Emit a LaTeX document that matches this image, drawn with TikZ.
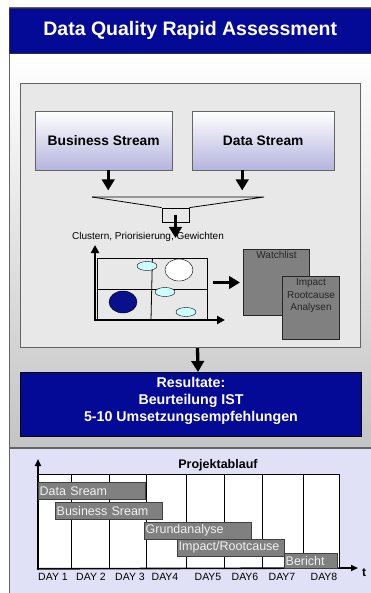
\documentclass[tikz,border=0pt]{standalone}
\usepackage{fontspec}
\setmainfont{Liberation Sans}
\usetikzlibrary{arrows.meta,positioning,calc,shapes.geometric}
\definecolor{navyblue}{RGB}{4,10,150}
\definecolor{panelgray}{RGB}{196,196,196}
\definecolor{innergray}{RGB}{232,232,232}
\definecolor{framegray}{RGB}{100,100,100}
\definecolor{streamblue}{RGB}{180,180,222}
\definecolor{boxgray}{RGB}{128,128,128}
\definecolor{lightcyan}{RGB}{204,255,255}
\definecolor{dotblue}{RGB}{8,16,140}
\definecolor{ganttbg}{RGB}{224,224,246}

\begin{document}
\begin{tikzpicture}[
    x=1pt, y=-1pt,
    titlebar/.style={rectangle, draw=black!80, fill=navyblue, text=white, font=\fontsize{19.5}{23}\selectfont\bfseries, anchor=north west, inner sep=0pt},
    streambox/.style={rectangle, draw=framegray, top color=white, bottom color=streamblue, minimum width=137pt, minimum height=59pt, font=\fontsize{13.8}{16}\selectfont\bfseries, anchor=north west, inner sep=0pt},
    greybox/.style={rectangle, draw=black!85, line width=1pt, fill=boxgray, anchor=north west, inner sep=0pt},
    greytext/.style={text=black!85, font=\fontsize{10}{12.5}\selectfont, align=center, anchor=north, inner sep=1pt},
    bubble/.style={ellipse, draw=black, fill=lightcyan, minimum width=20pt, minimum height=9pt, inner sep=0pt},
    bigbubble/.style={ellipse, draw=black, minimum width=28pt, minimum height=22pt, inner sep=0pt},
    ganttbar/.style={rectangle, draw=black!75, fill=boxgray, text=white!94!black, font=\fontsize{12.5}{14}\selectfont, anchor=north west, align=left, inner xsep=1.5pt, inner ysep=0pt, minimum height=17pt},
    daylabel/.style={font=\fontsize{10.5}{12}\selectfont, inner sep=0pt},
    blockarrow/.style={-{Triangle[width=12.5pt,length=11pt]}, line width=3.3pt},
    axisarrow/.style={-{Triangle[width=8pt,length=8pt]}, line width=2pt},
    ganttaxis/.style={-{Triangle[width=6pt,length=7pt]}, line width=1.6pt}
]
\useasboundingbox (0,0) rectangle (371,593);

% Background panels
\shade[top color=white, bottom color=panelgray] (9,53) rectangle (371,448);
\fill[ganttbg] (9,448) rectangle (371,593);
\draw[framegray, line width=1pt] (9,593) -- (9,8) -- (371,8);
\draw[framegray, line width=1.5pt] (9,448) -- (371,448);

% Title
\node[titlebar, minimum width=362pt, minimum height=45pt] (title) at (9,8) {Data Quality Rapid Assessment};

% Assessment area
\node[draw=framegray, fill=innergray, line width=1pt, minimum width=340pt, minimum height=264pt, anchor=north west, inner sep=0pt] (inner) at (20,83) {};

% Streams
\node[streambox] (business) at (35,111) {Business Stream};
\node[streambox, minimum width=142pt] (data) at (192,111) {Data Stream};

% Funnel
\coordinate (fnlL) at (92,197);
\coordinate (fnlR) at (264,197);
\node[draw, line width=0.8pt, minimum width=27pt, minimum height=14pt, inner sep=0pt] (neck) at (175.5,215) {};
\draw[line width=0.8pt] (fnlL) -- (fnlR) -- (neck.north east);
\draw[line width=0.8pt] (fnlL) -- (neck.north west);

\draw[blockarrow] ([xshift=4.5pt]business.south) -- ++(0,20);
\draw[blockarrow] ([xshift=-21pt]data.south) -- ++(0,20);

\node[font=\fontsize{10}{12}\selectfont, inner sep=0pt] (clust) at (148,237) {Clustern, Priorisierung, Gewichten};
\draw[blockarrow] (neck.center) -- ([yshift=-1pt]neck.center |- clust.center);

% Portfolio matrix
\node[draw, line width=0.8pt, fill=innergray, minimum width=110pt, minimum height=62pt, anchor=north west, inner sep=0pt] (mgrid) at (97,258) {};
\draw[line width=0.8pt] (mgrid.north) -- (151,320);
\draw[line width=0.8pt] (mgrid.west) -- (mgrid.east);
\coordinate (morig) at (95,320);
\coordinate (mtop) at (95,245);
\coordinate (mright) at (225,320);
\draw[axisarrow] ([yshift=-1pt]morig) -- (mtop);
\draw[axisarrow] ([xshift=-1pt]morig) -- (mright);

\node[bubble] (b1) at (147,266) {};
\node[bigbubble, fill=white] (b2) at (179,270) {};
\node[bubble] (b3) at (165,292) {};
\node[bigbubble, fill=dotblue] (b4) at (123,302) {};
\node[bubble] (b5) at (186,312) {};

% Watchlist and analyses
\node[greybox, minimum width=66pt, minimum height=66pt] (watch) at (243,249) {};
\node[greytext] (watchtxt) at ([yshift=-1pt]watch.north) {Watchlist};
\node[greybox, minimum width=57pt, minimum height=63pt] (impact) at (282,276) {};
\node[greytext] (impacttxt) at ([yshift=-1.5pt]impact.north) {Impact\\Rootcause\\Analysen};
\draw[blockarrow] ([xshift=5pt]mgrid.east |- watch.west) -- ([xshift=-3pt]watch.west);

% Results
\node[draw=black, line width=1pt, fill=navyblue, minimum width=341pt, minimum height=64pt, anchor=north west, inner sep=0pt] (results) at (20,372) {};
\node[text=white, font=\fontsize{14.2}{17}\selectfont\bfseries, align=center, inner sep=0pt] (restxt) at ([yshift=4pt]results.center) {Resultate:\\Beurteilung IST\\5-10 Umsetzungsempfehlungen};
\draw[blockarrow] ([xshift=7pt]inner.south) -- ([xshift=7pt]results.north);

% Project timeline
\node[font=\fontsize{12.5}{14}\selectfont\bfseries, inner sep=0pt] (ptitle) at (218,465) {Projektablauf};
\node[draw, fill=white, line width=0.8pt, minimum width=301pt, minimum height=94pt, anchor=north west, inner sep=0pt] (ggrid) at (38,474) {};
\foreach \gx in {71,109,146,186,224,262,303}
    \draw[line width=0.8pt] (\gx,474) -- (\gx,568);
\coordinate (ytop) at (38,459);
\coordinate (tend) at (358,568);
\draw[ganttaxis] ([yshift=-1pt]ggrid.south west) -- (ytop);
\draw[ganttaxis] ([xshift=-1pt]ggrid.south west) -- (tend);
\node[font=\fontsize{12}{14}\selectfont\bfseries, inner sep=0pt] (tlabel) at (364,573) {t};

\node[ganttbar, text width=104pt] (barA) at (38,482) {Data Sream};
\node[ganttbar, text width=104pt] (barB) at (55,502) {Business Sream};
\node[ganttbar, text width=104pt, minimum height=16.5pt] (barC) at (144,522) {Grundanalyse};
\node[ganttbar, text width=104pt] (barD) at (177,539) {Impact/Rootcause};
\node[ganttbar, text width=50pt, minimum height=15pt] (barE) at (284,553) {Bericht};

\foreach \dx/\dname [count=\di] in {53/DAY 1, 91/DAY 2, 130/DAY 3, 165/DAY4, 208/DAY5, 245/DAY6, 282/DAY7, 324/DAY8}
    \node[daylabel] (day\di) at (\dx,577) {\dname};

\end{tikzpicture}
\end{document}
